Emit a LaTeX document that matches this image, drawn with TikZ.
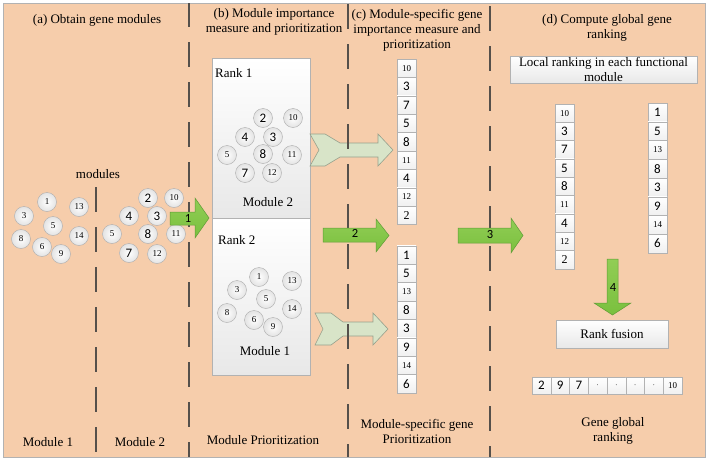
\documentclass[tikz,border=0pt]{standalone}
\usepackage{fontspec}
\setmainfont{Liberation Serif}
\newfontfamily\calib{Carlito}
\definecolor{bgpeach}{RGB}{246,205,171}
\definecolor{dline}{RGB}{85,80,75}
\definecolor{agreen}{RGB}{122,192,62}
\definecolor{agreentop}{RGB}{145,205,85}
\definecolor{agreenedge}{RGB}{95,155,55}
\definecolor{pale}{RGB}{216,228,200}
\definecolor{paleedge}{RGB}{150,160,140}
\newcommand\gsmall[1]{{\fontsize{9}{10}\selectfont #1}}
\newcommand\gbig[1]{{\calib\fontsize{13}{14}\selectfont #1}}
\newcommand\gser[1]{{\fontsize{12}{13}\selectfont #1}}
\begin{document}
\begin{tikzpicture}[x=1pt,y=-1pt,
  txt/.style={font=\fontsize{13}{15}\selectfont, align=center, inner sep=0},
  gene/.style={circle, draw=gray!65, inner sep=0, minimum size=19pt, shading=radial, inner color=white, outer color=gray!22},
  cellbox/.style={draw=gray!60, top color=white, bottom color=gray!12, minimum width=19pt, minimum height=18.4pt, inner sep=0},
  rowcell/.style={draw=gray!60, top color=white, bottom color=gray!12, minimum width=18.75pt, minimum height=17pt, inner sep=0},
  rankbox/.style={draw=gray!60, top color=white, bottom color=gray!18, inner sep=0},
  dashline/.style={draw=dline, line width=1.1pt, dash pattern=on 25pt off 15pt},
  greenarrow/.style={draw=agreenedge, line width=0.5pt, top color=agreentop, bottom color=agreen},
  palearrow/.style={draw=paleedge, line width=0.6pt, fill=pale},
  alabel/.style={font=\calib\fontsize{12.5}{13}\selectfont, inner sep=0}
]
\useasboundingbox (0,0) rectangle (709,463);
\fill[white] (0,0) rectangle (709,463);
\draw[gray!60, fill=bgpeach] (3,3) rectangle (705,457);

% titles
\node[txt] (ta) at (97,20) {(a) Obtain gene modules};
\node[txt] (tb) at (274,22) {(b) Module importance\\measure and prioritization};
\node[txt] (tc) at (417,30) {(c) Module-specific gene\\importance measure and\\prioritization};
\node[txt] (td) at (607,27.5) {(d) Compute global gene\\ranking};

% bottom labels
\node[txt] (bm1) at (48,442) {Module 1};
\node[txt] (bm2) at (140,442) {Module 2};
\node[txt] (bmp) at (263,440) {Module Prioritization};
\node[txt] (bms) at (417,431) {Module-specific gene\\Prioritization};
\node[txt] (bgg) at (613,431) {Gene global\\ranking};

\node[txt] (modl) at (98,174) {modules};

% module groups (a)
\foreach \x/\y/\lab/\n in {47/202/\gsmall{1}/a1, 79/207/\gsmall{13}/a13, 24/216/\gsmall{3}/a3, 53/226/\gsmall{5}/a5, 79/236/\gsmall{14}/a14, 21/239/\gsmall{8}/a8, 42/247/\gsmall{6}/a6, 61/254/\gsmall{9}/a9}
  \node[gene] (\n) at (\x,\y) {\lab};
\foreach \x/\y/\lab/\n in {148/198/\gbig{2}/b2, 174/198/\gsmall{10}/b10, 129/216/\gbig{4}/b4, 157/216/\gbig{3}/b3, 112/234/\gsmall{5}/b5, 148/234/\gbig{8}/b8, 176/234/\gsmall{11}/b11, 129/253/\gbig{7}/b7, 157/254/\gsmall{12}/b12}
  \node[gene] (\n) at (\x,\y) {\lab};

% rank boxes (b)
\node[rankbox, minimum width=98pt, minimum height=160pt] (rk1) at (261,138) {};
\node[rankbox, minimum width=98pt, minimum height=157pt] (rk2) at (261,296.5) {};
\node[txt, anchor=west] (rk1t) at (215,73) {Rank 1};
\node[txt, anchor=west] (rk2t) at (218,240) {Rank 2};
\node[txt] (rk1m) at (268,202) {Module 2};
\node[txt] (rk2m) at (265,351) {Module 1};
\foreach \x/\y/\lab/\n in {263/118/\gbig{2}/c2, 293/118/\gsmall{10}/c10, 245/137/\gbig{4}/c4, 273/137/\gbig{3}/c3, 227/155/\gsmall{5}/c5, 263/154/\gbig{8}/c8, 292/155/\gsmall{11}/c11, 245/173/\gbig{7}/c7, 272/173/\gsmall{12}/c12}
  \node[gene] (\n) at (\x,\y) {\lab};
\foreach \x/\y/\lab/\n in {259/277/\gsmall{1}/d1, 292/281/\gsmall{13}/d13, 237/290/\gsmall{3}/d3, 266/299/\gsmall{5}/d5, 292/309/\gsmall{14}/d14, 227/313/\gsmall{8}/d8, 254/320/\gsmall{6}/d6, 273/327/\gsmall{9}/d9}
  \node[gene] (\n) at (\x,\y) {\lab};

% pale chevron arrows
\draw[palearrow] (310,134) -- (325,134) -- (340,143) -- (378,143) -- (378,134) -- (393,150) -- (378,166) -- (378,157) -- (340,157) -- (325,166) -- (310,166) -- (319,150) -- cycle;
\draw[palearrow] (315,313) -- (331,313) -- (343,322) -- (373,322) -- (373,313) -- (388,329) -- (373,345) -- (373,336) -- (343,336) -- (331,345) -- (315,345) -- (323,329) -- cycle;

% lists (c)
\foreach \lab [count=\i from 0] in {\gsmall{10},\gbig{3},\gbig{7},\gbig{5},\gbig{8},\gsmall{11},\gbig{4},\gsmall{12},\gser{2}}
  \node[cellbox] (la\i) at (406.5,68.2+18.4*\i) {\lab};
\foreach \lab [count=\i from 0] in {\gbig{1},\gbig{5},\gsmall{13},\gbig{8},\gbig{3},\gbig{9},\gsmall{14},\gbig{6}}
  \node[cellbox] (lb\i) at (406.5,255+18.4*\i) {\lab};

% (d)
\node[txt, rankbox, minimum width=187pt, minimum height=27pt] (loc) at (603.5,69.5) {Local ranking in each functional\\module};
\foreach \lab [count=\i from 0] in {\gsmall{10},\gbig{3},\gbig{7},\gbig{5},\gbig{8},\gsmall{11},\gbig{4},\gsmall{12},\gser{2}}
  \node[cellbox, minimum height=18.3pt] (ma\i) at (564.5,113.2+18.3*\i) {\lab};
\foreach \lab [count=\i from 0] in {\gbig{1},\gbig{5},\gsmall{13},\gbig{8},\gbig{3},\gbig{9},\gsmall{14},\gbig{6}}
  \node[cellbox, minimum height=18.75pt] (mb\i) at (657.5,112.4+18.75*\i) {\lab};
\node[txt, rankbox, minimum width=112pt, minimum height=28pt] (fus) at (612,334) {Rank fusion};
\foreach \lab [count=\i from 0] in {\gbig{2},\gbig{9},\gbig{7},\gsmall{$\cdot$},\gsmall{$\cdot$},\gsmall{$\cdot$},\gsmall{$\cdot$},\gsmall{10}}
  \node[rowcell] (g\i) at (541.4+18.75*\i,385.5) {\lab};

% dashed separators
\draw[dashline, dash phase=0pt] (96,187) -- (96,457);
\draw[dashline, dash phase=1pt] (189,3) -- (189,457);
\draw[dashline, dash phase=-1pt] (348,3) -- (348,457);
\draw[dashline, dash phase=-3pt] (490,3) -- (490,457);

% green block arrows
\draw[greenarrow] (170,212) -- (195,212) -- (195,198) -- (209,218) -- (195,238) -- (195,225) -- (170,225) -- cycle;
\node[alabel] (n1) at (188,218) {1};
\draw[greenarrow] (323,228) -- (376,228) -- (376,219) -- (389,235.5) -- (376,252) -- (376,242) -- (323,242) -- cycle;
\node[alabel] (n2) at (355,233) {2};
\draw[greenarrow] (458,228) -- (511,228) -- (511,218) -- (523,235.5) -- (511,253) -- (511,243) -- (458,243) -- cycle;
\node[alabel] (n3) at (490,234) {3};
\draw[greenarrow] (607,259) -- (618,259) -- (618,303) -- (631,303) -- (612.5,315) -- (594,303) -- (607,303) -- cycle;
\node[alabel] (n4) at (613,287) {4};
\end{tikzpicture}
\end{document}
